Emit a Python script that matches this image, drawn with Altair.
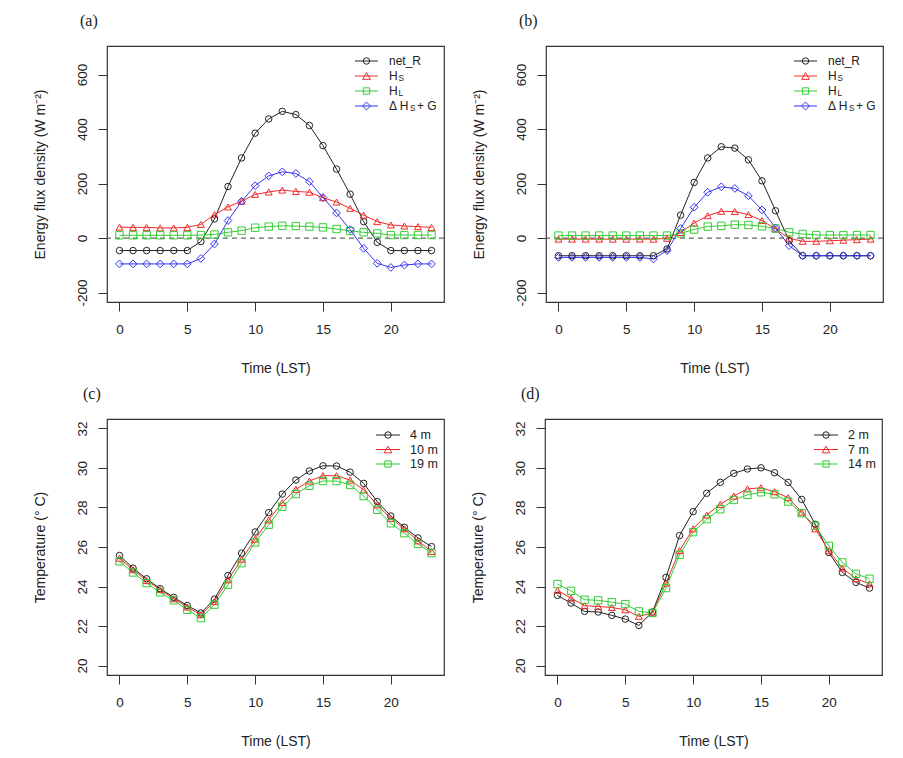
import altair as alt
import pandas as pd

# ---------------- data ----------------
hours = list(range(24))

# panel (a)
a_net_R = [-46, -46, -46, -46, -46, -46, -13, 70, 189, 294, 385, 437, 465, 453, 413, 339, 253, 161, 60, -16, -46, -46, -46, -46]
a_H_S = [40, 39, 39, 37, 37, 39, 50, 86, 114, 135, 160, 169, 176, 171, 168, 148, 132, 109, 84, 60, 48, 44, 42, 39]
a_H_L = [10, 10, 10, 10, 10, 10, 11, 13, 21, 27, 38, 42, 45, 44, 42, 39, 33, 26, 21, 17, 11, 11, 11, 11]
a_dHs_G = [-95, -95, -95, -95, -95, -95, -75, -22, 64, 135, 192, 228, 243, 237, 207, 149, 92, 31, -38, -93, -108, -99, -95, -95]

# panel (b)
b_net_R = [-65, -65, -65, -65, -65, -65, -65, -65, -40, 84, 204, 294, 335, 330, 287, 210, 100, -10, -65, -65, -65, -65, -65, -65]
b_H_S = [-4, -4, -4, -4, -4, -4, -4, -4, -1, 20, 55, 82, 98, 97, 86, 64, 33, -1, -12, -12, -10, -8, -6, -4]
b_H_L = [9, 9, 9, 9, 9, 9, 9, 9, 9, 17, 31, 42, 45, 49, 48, 43, 35, 21, 15, 11, 11, 11, 11, 11]
b_dHs_G = [-71, -71, -71, -71, -71, -71, -71, -77, -46, 35, 113, 168, 188, 182, 155, 103, 37, -28, -65, -65, -65, -65, -65, -65]

# panel (c)
c_4m = [25.57, 24.93, 24.39, 23.89, 23.45, 23.04, 22.66, 23.36, 24.56, 25.69, 26.76, 27.74, 28.68, 29.39, 29.85, 30.11, 30.10, 29.79, 29.22, 28.30, 27.57, 27.00, 26.46, 26.02]
c_10m = [25.43, 24.85, 24.30, 23.84, 23.38, 22.96, 22.57, 23.24, 24.34, 25.38, 26.39, 27.37, 28.25, 28.92, 29.34, 29.61, 29.61, 29.39, 28.89, 28.13, 27.45, 26.92, 26.31, 25.77]
c_19m = [25.27, 24.71, 24.17, 23.70, 23.30, 22.82, 22.40, 23.08, 24.09, 25.18, 26.23, 27.12, 28.04, 28.68, 29.10, 29.34, 29.34, 29.14, 28.58, 27.88, 27.20, 26.70, 26.16, 25.69]

# panel (d)
d_2m = [23.55, 23.16, 22.74, 22.71, 22.54, 22.35, 22.03, 22.71, 24.46, 26.58, 27.79, 28.72, 29.27, 29.73, 29.95, 30.01, 29.76, 29.27, 28.41, 27.15, 25.72, 24.71, 24.21, 23.92]
d_7m = [23.80, 23.41, 23.03, 22.99, 22.94, 22.82, 22.49, 22.66, 24.17, 25.82, 26.92, 27.62, 28.16, 28.58, 28.94, 29.00, 28.80, 28.50, 27.76, 26.92, 25.81, 24.93, 24.39, 24.14]
d_14m = [24.12, 23.78, 23.33, 23.30, 23.21, 23.11, 22.74, 22.66, 23.92, 25.60, 26.75, 27.41, 27.91, 28.38, 28.64, 28.77, 28.67, 28.30, 27.71, 27.07, 26.06, 25.22, 24.64, 24.39]

flux_names = ["net_R", "H_S", "H_L", "dHs_G"]
c_names = ["4 m", "10 m", "19 m"]
d_names = ["2 m", "7 m", "14 m"]
x_ticks = [0, 5, 10, 15, 20]
flux_ticks = [-200, 0, 200, 400, 600]
temp_ticks = [20, 22, 24, 26, 28, 30, 32]

# ---------------- style ----------------
FONT = "Liberation Sans"
SERIF = "Liberation Serif"
BLACK, RED, GREEN, BLUE = "#222222", "#f02a2a", "#35cc35", "#3333f5"
KEYS = ["k0", "k1", "k2", "k3"]
colors4 = [BLACK, RED, GREEN, BLUE]
shapes4 = ["circle", "triangle-up", "square", "diamond"]
sizes4 = [42, 60, 40, 62]
W, H = 337, 256
one = pd.DataFrame({"k": [0]})


def long_df(names, series):
    rows = []
    for i, (n, vals) in enumerate(zip(names, series)):
        for h, v in zip(hours, vals):
            rows.append({"hour": h, "value": v, "series": n, "key": KEYS[i]})
    return pd.DataFrame(rows)


def legend_layers(entries, y0, dy, xl1, xl2, xm, xt, fs):
    layers = []
    for i, (col, sh, sz, pieces) in enumerate(entries):
        yy = y0 + i * dy
        layers.append(alt.Chart(one).mark_rule(color=col, strokeWidth=1).encode(
            x=alt.value(xl1), x2=alt.value(xl2), y=alt.value(yy)))
        layers.append(alt.Chart(one).mark_point(shape=sh, filled=False, color=col, size=sz,
                                                strokeWidth=1, opacity=1).encode(
            x=alt.value(xm), y=alt.value(yy)))
        for txt, xoff, sub in pieces:
            layers.append(alt.Chart(one).mark_text(
                text=txt, align="left", baseline="middle", font=FONT,
                fontSize=(fs * 0.68 if sub else fs), color="#222",
                dy=(3 if sub else 0)).encode(x=alt.value(xt + xoff), y=alt.value(yy)))
    return layers


def panel(names, series, ydomain, yticks, ytitle, label, label_dx, title_offset,
          legend_entries, legend_geom, zero_line):
    n = len(names)
    df = long_df(names, series)
    base = alt.Chart(df)
    x = alt.X("hour:Q",
              scale=alt.Scale(domain=[-0.92, 23.92], nice=False, zero=False),
              axis=alt.Axis(values=x_ticks, title="Time (LST)", domain=False, grid=False,
                            tickSize=9, tickColor="#333", tickWidth=1,
                            labelFont=FONT, labelFontSize=13.5, labelColor="#222",
                            labelPadding=11, labelFlush=False, labelOverlap=False,
                            titleFont=FONT, titleFontSize=14, titleFontWeight="normal",
                            titleColor="#222", titlePadding=26))
    y = alt.Y("value:Q",
              scale=alt.Scale(domain=ydomain, nice=False, zero=False),
              axis=alt.Axis(values=yticks, title=ytitle, domain=False, grid=False,
                            tickSize=9, tickColor="#333", tickWidth=1,
                            labelFont=FONT, labelFontSize=13.5, labelColor="#222",
                            labelAngle=270, labelAlign="center", labelBaseline="bottom",
                            labelPadding=9, labelFlush=False, labelOverlap=False,
                            labelExpr="datum.value + ''",
                            titleFont=FONT, titleFontSize=14, titleFontWeight="normal",
                            titleColor="#222", titlePadding=28))
    color = alt.Color("key:N", scale=alt.Scale(domain=KEYS[:n], range=colors4[:n]), legend=None)
    shape = alt.Shape("key:N", scale=alt.Scale(domain=KEYS[:n], range=shapes4[:n]), legend=None)
    size = alt.Size("key:N", scale=alt.Scale(domain=KEYS[:n], range=sizes4[:n]), legend=None)
    layers = []
    if zero_line:
        layers.append(alt.Chart(one).mark_rule(color="#666", strokeDash=[5, 4], strokeWidth=1.2)
                      .encode(y=alt.datum(0)))
    layers.append(base.mark_line(strokeWidth=1).encode(x=x, y=y, color=color))
    layers.append(base.mark_point(filled=False, strokeWidth=1, opacity=1).encode(
        x=x, y=y, color=color, shape=shape, size=size))
    layers += legend_layers(legend_entries, *legend_geom)
    return alt.layer(*layers).properties(
        width=W, height=H,
        title=alt.TitleParams(label, anchor="start", frame="group", font=SERIF, fontSize=16,
                              fontWeight="normal", color="#222", dx=label_dx,
                              offset=title_offset))


flux_legend = [
    (BLACK, "circle", 42, [("net_R", 0, False)]),
    (RED, "triangle-up", 60, [("H", 0, False), ("S", 9.5, True)]),
    (GREEN, "square", 40, [("H", 0, False), ("L", 9.5, True)]),
    (BLUE, "diamond", 62, [("Δ H", 0, False), ("S", 21, True), ("+ G", 28, False)]),
]

pa = panel(flux_names, [a_net_R, a_H_S, a_H_L, a_dHs_G],
           [-234.8, 704.8], flux_ticks, "Energy flux density (W m⁻²)", "(a)", -27, 17,
           flux_legend, (15, 15, 248, 271, 259.5, 282, 12), True)
pb = panel(flux_names, [b_net_R, b_H_S, b_H_L, b_dHs_G],
           [-234.8, 704.8], flux_ticks, "Energy flux density (W m⁻²)", "(b)", -27, 17,
           flux_legend, (15, 15, 248, 271, 259.5, 282, 12), True)


def temp_legend(labels):
    return [(colors4[i], shapes4[i], sizes4[i], [(labels[i], 0, False)]) for i in range(3)]


pc = panel(c_names, [c_4m, c_10m, c_19m],
           [19.52, 32.48], temp_ticks, "Temperature (° C)", "(c)", -24, 17,
           temp_legend(c_names), (16, 14.5, 269, 293, 281, 303, 12.5), False)
pd_ = panel(d_names, [d_2m, d_7m, d_14m],
            [19.52, 32.48], temp_ticks, "Temperature (° C)", "(d)", -24, 17,
            temp_legend(d_names), (16, 14.5, 269, 293, 281, 303, 12.5), False)

chart = alt.vconcat(
    alt.hconcat(pa, pb, spacing=25),
    alt.hconcat(pc, pd_, spacing=25),
    spacing=8,
).properties(
    padding={"left": 32, "top": 12, "right": 5, "bottom": 5},
    background="white",
).configure_view(stroke="#333", strokeWidth=1.2)

chart.save("out.html", embed_options={"renderer": "svg", "actions": False})
